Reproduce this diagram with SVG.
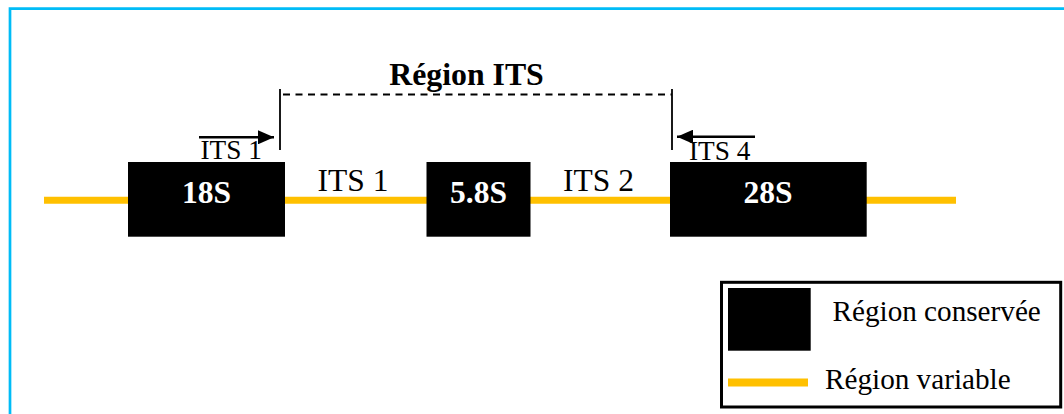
<svg xmlns="http://www.w3.org/2000/svg" width="1064" height="414" viewBox="0 0 1064 414">
  <style>
    .serif { font-family: "Liberation Serif", "Times New Roman", serif; }
    .box { fill: #000000; }
    .lbl-box { font-weight: bold; fill: #ffffff; font-size: 31.5px; text-anchor: middle; }
    .lbl { fill: #000000; font-size: 31.5px; text-anchor: middle; }
    .lbl-small { fill: #000000; font-size: 27.3px; }
    .lbl-legend { fill: #000000; font-size: 29.2px; }
    .variable { stroke: #FFC000; stroke-width: 7; fill: none; }
    .bracket { stroke: #000000; stroke-width: 1.8; fill: none; }
    .primer { stroke: #000000; stroke-width: 2.6; fill: none; }
  </style>
  <defs>
    <marker id="head" viewBox="0 0 16 14" refX="16" refY="7" markerWidth="16" markerHeight="14" markerUnits="userSpaceOnUse" orient="auto">
      <path d="M0,0 L16,7 L0,14 Z" fill="#000000"/>
    </marker>
  </defs>

  <rect width="1064" height="414" fill="#ffffff"/>

  <!-- frame -->
  <polyline points="10,414 10,8.7 1064,8.7" fill="none" stroke="#00BCF7" stroke-width="2.7"/>

  <!-- variable backbone and connectors -->
  <g id="connectors">
    <line class="variable" x1="44" y1="200.3" x2="956" y2="200.3"/>
    <!-- ITS region bracket -->
    <line class="bracket" x1="280" y1="89" x2="280" y2="150"/>
    <line class="bracket" x1="672" y1="89" x2="672" y2="150"/>
    <line class="bracket" x1="283" y1="94.5" x2="672" y2="94.5" stroke-dasharray="7 5.5"/>
    <!-- primer arrows -->
    <line class="primer" x1="199" y1="137.3" x2="274" y2="137.3" marker-end="url(#head)"/>
    <line class="primer" x1="755" y1="136.7" x2="677" y2="136.7" marker-end="url(#head)"/>
  </g>

  <g id="node-18S">
    <rect class="box" x="128" y="162" width="157" height="74.7"/>
    <text class="serif lbl-box" x="206.5" y="203.3">18S</text>
  </g>

  <g id="node-58S">
    <rect class="box" x="426.5" y="162" width="104" height="74.7"/>
    <text class="serif lbl-box" x="478.5" y="203.3">5.8S</text>
  </g>

  <g id="node-28S">
    <rect class="box" x="670" y="162" width="196.7" height="74.7"/>
    <text class="serif lbl-box" x="768" y="203.3">28S</text>
  </g>

  <g id="label-its1">
    <text class="serif lbl" x="353" y="190.7">ITS 1</text>
  </g>

  <g id="label-its2">
    <text class="serif lbl" x="598.5" y="190.7">ITS 2</text>
  </g>

  <g id="label-region-its">
    <text class="serif" x="466.5" y="85" font-size="31.8" font-weight="bold" text-anchor="middle">Région ITS</text>
  </g>

  <g id="primer-its1">
    <text class="serif lbl-small" x="200.5" y="159.3">ITS 1</text>
  </g>

  <g id="primer-its4">
    <text class="serif lbl-small" x="689" y="160">ITS 4</text>
  </g>

  <g id="legend">
    <rect x="721.5" y="282.3" width="339.2" height="124.7" fill="#ffffff" stroke="#000000" stroke-width="3"/>
    <rect class="box" x="728" y="288" width="82.7" height="62.7"/>
    <text class="serif lbl-legend" x="832.5" y="320.7">Région conservée</text>
    <line x1="728" y1="382.5" x2="808" y2="382.5" stroke="#FFC000" stroke-width="8"/>
    <text class="serif lbl-legend" x="825" y="389.3">Région variable</text>
  </g>
</svg>
